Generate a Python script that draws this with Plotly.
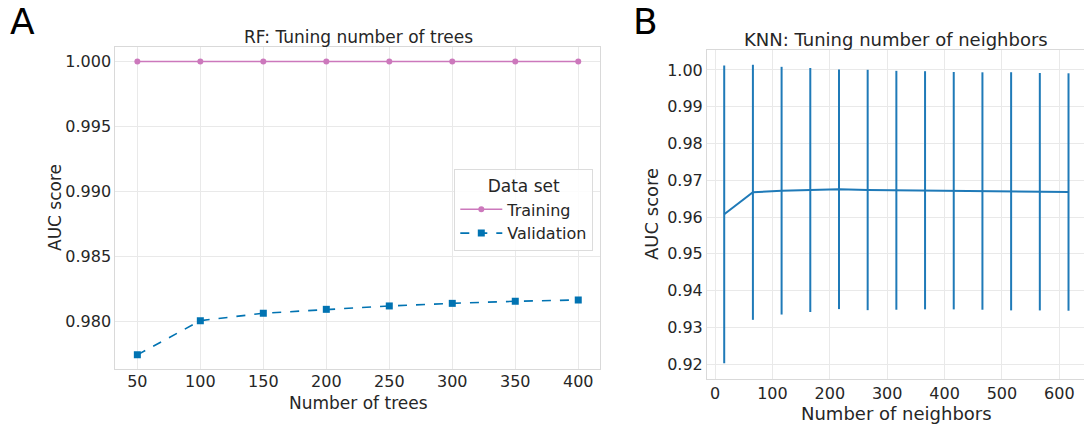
import plotly.graph_objects as go

W, H = 1084, 425

# ---- Panel A data: RF tuning number of trees ----
n_trees = [50, 100, 150, 200, 250, 300, 350, 400]
auc_training = [1.0, 1.0, 1.0, 1.0, 1.0, 1.0, 1.0, 1.0]
auc_validation = [0.97745, 0.98008, 0.98065, 0.98095, 0.98121, 0.98141, 0.98157, 0.98167]
rf_yticks = [0.980, 0.985, 0.990, 0.995, 1.000]
rf_xticks = [50, 100, 150, 200, 250, 300, 350, 400]

# ---- Panel B data: KNN tuning number of neighbors ----
n_neighbors = [16, 66, 116, 166, 216, 266, 316, 366, 416, 466, 516, 566, 616]
knn_auc_mean = [0.96073, 0.96672, 0.96716, 0.96735, 0.96754, 0.96735, 0.96727,
                0.96727, 0.96716, 0.96707, 0.96699, 0.96688, 0.96680]
knn_auc_std = [0.0405, 0.0347, 0.0337, 0.0332, 0.0326, 0.0327, 0.0325,
               0.0324, 0.0323, 0.0323, 0.0324, 0.0323, 0.0323]
knn_yticks = [0.92, 0.93, 0.94, 0.95, 0.96, 0.97, 0.98, 0.99, 1.00]
knn_xticks = [0, 100, 200, 300, 400, 500, 600]

PINK = "#cc78bc"
BLUE = "#0173b2"
KNN_BLUE = "#1f7ab8"
TXT = "#262626"
GRID = "#e9e9e9"
EDGE = "#d9d9d9"
FONT = "DejaVu Sans"


def px_x(x):
    return x / W


def px_y(y):
    return 1 - y / H


fig = go.Figure()

fig.add_trace(go.Scatter(
    x=n_trees, y=auc_training, name="Training", mode="lines+markers",
    line=dict(color=PINK, width=1.6),
    marker=dict(symbol="circle", size=6, color=PINK),
    xaxis="x", yaxis="y"))
fig.add_trace(go.Scatter(
    x=n_trees, y=auc_validation, name="Validation", mode="lines+markers",
    line=dict(color=BLUE, width=1.6, dash="dash"),
    marker=dict(symbol="square", size=7, color=BLUE),
    xaxis="x", yaxis="y"))
fig.add_trace(go.Scatter(
    x=n_neighbors, y=knn_auc_mean, mode="lines", showlegend=False,
    line=dict(color=KNN_BLUE, width=2),
    error_y=dict(type="data", array=knn_auc_std, visible=True,
                 color=KNN_BLUE, thickness=2, width=0),
    xaxis="x2", yaxis="y2"))

axis_common = dict(
    showgrid=True, gridcolor=GRID, gridwidth=1,
    showline=True, linecolor=EDGE, linewidth=1, mirror=True,
    zeroline=False, ticks="", automargin=False,
    tickfont=dict(family=FONT, size=16, color=TXT),
)

fig.update_layout(
    width=W, height=H,
    margin=dict(l=0, r=0, t=0, b=0),
    paper_bgcolor="white", plot_bgcolor="white",
    font=dict(family=FONT, color=TXT),
    xaxis=dict(domain=[px_x(115.3), px_x(600.3)], range=[32.5, 417.5],
               tickvals=rf_xticks, anchor="y", ticklabelstandoff=-2, **axis_common),
    yaxis=dict(domain=[px_y(369), px_y(46.9)], range=[0.976363, 1.001125],
               tickvals=rf_yticks, tickformat=".3f", anchor="x", **axis_common),
    xaxis2=dict(domain=[px_x(707), 1.0], range=[-14, 643],
                tickvals=knn_xticks, anchor="y2", **axis_common),
    yaxis2=dict(domain=[px_y(379), px_y(50)], range=[0.91592, 1.00544],
                tickvals=knn_yticks, tickformat=".2f", anchor="x2", **axis_common),
    legend=dict(
        x=px_x(593.3), y=px_y(169.3), xanchor="right", yanchor="top",
        bgcolor="rgba(255,255,255,0.85)", bordercolor="#dcdcdc", borderwidth=1,
        font=dict(family=FONT, size=16, color=TXT),
        title=dict(text="Data set", side="top center",
                   font=dict(family=FONT, size=17, color=TXT)),
        tracegroupgap=0, itemwidth=42,
    ),
)

annots = [
    ("A", 8, 21, 36, 0, "left"),
    ("B", 631, 21, 36, 0, "left"),
    ("RF: Tuning number of trees", 358, 37, 17, 0, "center"),
    ("Number of trees", 358, 402.5, 17, 0, "center"),
    ("AUC score", 55, 208, 17, -90, "center"),
    ("KNN: Tuning number of neighbors", 896, 39.5, 18, 0, "center"),
    ("Number of neighbors", 896.5, 413, 18, 0, "center"),
    ("AUC score", 651.5, 214.5, 18, -90, "center"),
]
for text, x, y, size, ang, xa in annots:
    fig.add_annotation(
        text=text, x=px_x(x), y=px_y(y), xref="paper", yref="paper",
        xanchor=xa, yanchor="middle", showarrow=False, textangle=ang,
        font=dict(family=FONT, size=size, color="black" if size > 30 else TXT))

fig.write_html("out.html")
